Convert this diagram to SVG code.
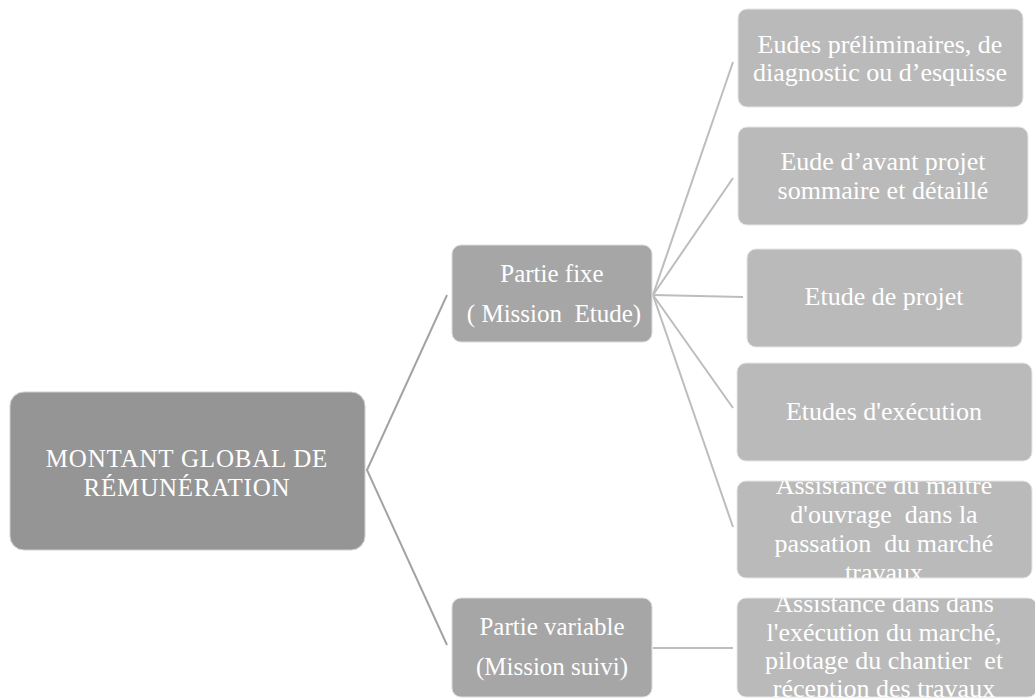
<svg xmlns="http://www.w3.org/2000/svg" width="1035" height="699" viewBox="0 0 1035 699">
<style>
.t{font-family:"Liberation Serif","Times New Roman",serif;fill:#ffffff;text-anchor:middle;}
.lt{font-size:26px;}
.root{fill:#959595;stroke:#d0d0d0;stroke-width:1;}
.mid{fill:#a6a6a6;stroke:#dcdcdc;stroke-width:1;}
.leaf{fill:#bababa;stroke:#e6e6e6;stroke-width:1;}
.c1{stroke:#a3a3a3;stroke-width:2;fill:none;}
.c2{stroke:#bdbdbd;stroke-width:2;fill:none;}
</style>
<defs>
<clipPath id="clip5"><rect x="737" y="481" width="295" height="97" rx="9"/></clipPath>
<clipPath id="clip6"><rect x="737" y="598" width="300" height="99" rx="9"/></clipPath>
</defs>
<rect width="1035" height="699" fill="#ffffff"/>
<g id="connectors">
<polyline class="c1" points="447,295 367,470 447,645"/>
<line class="c2" x1="653" y1="295" x2="733" y2="62"/>
<line class="c2" x1="653" y1="295" x2="733" y2="178"/>
<line class="c2" x1="653" y1="295" x2="743" y2="297"/>
<line class="c2" x1="653" y1="295" x2="733" y2="408"/>
<line class="c2" x1="653" y1="295" x2="733" y2="527"/>
<line class="c2" x1="653" y1="648" x2="733" y2="648"/>
</g>
<g id="root">
<rect class="root" x="10" y="392" width="355" height="158" rx="14"/>
<text class="t" font-size="25" letter-spacing="0.8" x="187" y="467">MONTANT GLOBAL DE</text>
<text class="t" font-size="25" letter-spacing="0.8" x="187" y="496">RÉMUNÉRATION</text>
</g>
<g id="partie-fixe">
<rect class="mid" x="452" y="245" width="200" height="97" rx="9"/>
<text class="t" font-size="25" x="552" y="282">Partie fixe</text>
<text class="t" font-size="25" x="554" y="322" xml:space="preserve">( Mission  Etude)</text>
</g>
<g id="partie-variable">
<rect class="mid" x="452" y="598" width="200" height="99" rx="9"/>
<text class="t" font-size="25" x="552" y="635">Partie variable</text>
<text class="t" font-size="25" x="552" y="675">(Mission suivi)</text>
</g>
<g id="leaf1">
<rect class="leaf" x="738" y="9" width="285" height="98" rx="9"/>
<text class="t lt" x="880" y="53">Eudes préliminaires, de</text>
<text class="t lt" x="880" y="81">diagnostic ou d’esquisse</text>
</g>
<g id="leaf2">
<rect class="leaf" x="738" y="127" width="290" height="98" rx="9"/>
<text class="t lt" x="883" y="170">Eude d’avant projet</text>
<text class="t lt" x="883" y="199">sommaire et détaillé</text>
</g>
<g id="leaf3">
<rect class="leaf" x="747" y="249" width="275" height="98" rx="9"/>
<text class="t lt" x="884" y="305">Etude de projet</text>
</g>
<g id="leaf4">
<rect class="leaf" x="737" y="363" width="295" height="98" rx="9"/>
<text class="t lt" x="884" y="420">Etudes d'exécution</text>
</g>
<g id="leaf5">
<rect class="leaf" x="737" y="481" width="295" height="97" rx="9"/>
<g clip-path="url(#clip5)">
<text class="t lt" x="884" y="494">Assistance du maitre</text>
<text class="t lt" x="884" y="523" xml:space="preserve">d'ouvrage  dans la</text>
<text class="t lt" x="884" y="552" xml:space="preserve">passation  du marché</text>
<text class="t lt" x="884" y="581">travaux</text>
</g>
</g>
<g id="leaf6">
<rect class="leaf" x="737" y="598" width="300" height="99" rx="9"/>
<g clip-path="url(#clip6)">
<text class="t lt" x="884" y="612">Assistance dans dans</text>
<text class="t lt" x="884" y="641">l'exécution du marché,</text>
<text class="t lt" x="884" y="669" xml:space="preserve">pilotage du chantier  et</text>
<text class="t lt" x="884" y="697">réception des travaux</text>
</g>
</g>
</svg>
